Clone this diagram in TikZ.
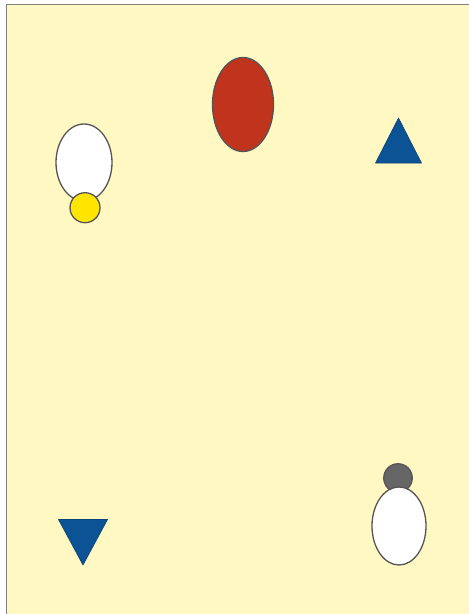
\documentclass[tikz,border=0pt]{standalone}
\usetikzlibrary{shapes.geometric}
\definecolor{bgcream}{HTML}{FFF8C2}
\definecolor{framegray}{HTML}{7F7F7F}
\definecolor{outl}{HTML}{555555}
\definecolor{redfill}{HTML}{C0341D}
\definecolor{bluefill}{HTML}{0B5394}
\definecolor{yellowfill}{HTML}{FFE500}
\definecolor{grayfill}{HTML}{666666}
\begin{document}
\begin{tikzpicture}[x=1pt,y=-1pt,
  shp/.style={draw=outl,line width=1.3pt,inner sep=0pt,outer sep=0pt},
  egg/.style={shp,ellipse},
  ball/.style={shp,circle},
  tri/.style={fill=bluefill,draw=bluefill!80!black,line width=0.6pt,line join=round}]
\useasboundingbox (0,0) rectangle (469,614);
\clip (0,0) rectangle (469,614);
\draw[fill=bgcream,draw=framegray,line width=1pt] (6,4) rectangle (480,630);
% top red ellipse
\node[egg,fill=redfill,minimum width=61pt,minimum height=94pt] (red) at (243,104.5) {};
% up triangle
\coordinate (ua) at (398.5,118);
\coordinate (ub) at (375.5,163);
\coordinate (uc) at (421.5,163);
\draw[tri] (ua) -- (ub) -- (uc) -- cycle;
% left white ellipse with yellow ball
\node[egg,fill=white,minimum width=56pt,minimum height=77pt] (wl) at (84,162.5) {};
\node[ball,fill=yellowfill,minimum size=30pt] (yb) at (85,207.7) {};
% right gray ball with white ellipse
\node[ball,fill=grayfill,minimum size=28.5pt] (gb) at (398,478) {};
\node[egg,fill=white,minimum width=54pt,minimum height=78pt] (wr) at (399,526) {};
% down triangle
\coordinate (da) at (58.5,519.5);
\coordinate (db) at (107.5,519.5);
\coordinate (dc) at (83,565);
\draw[tri] (da) -- (db) -- (dc) -- cycle;
\end{tikzpicture}
\end{document}
